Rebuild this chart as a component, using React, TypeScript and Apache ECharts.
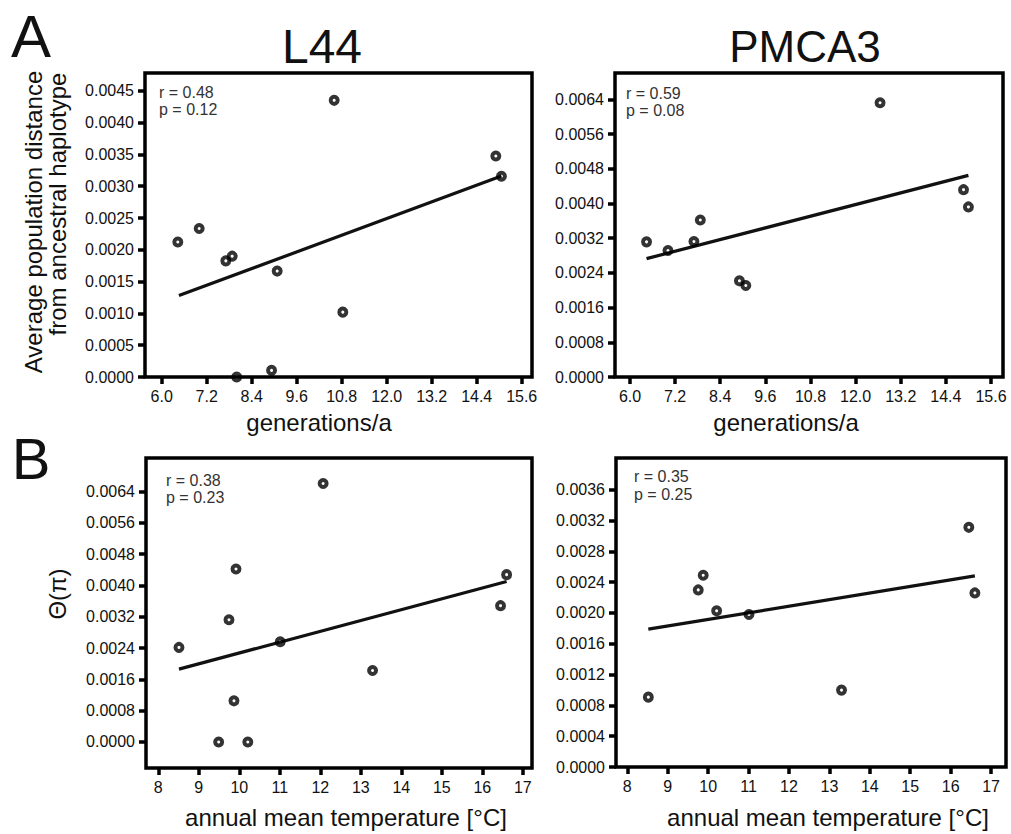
import React, { useEffect, useRef } from "react";
import * as echarts from "echarts";

const FONT = '"Liberation Sans", Arial, Helvetica, sans-serif';

// ---- Data ----
// Panel A, L44: generations/a vs average population distance
const l44Gen = [6.43, 7.0, 7.71, 7.88, 8.0, 8.93, 9.08, 10.6, 10.83, 14.91, 15.06];
const l44Dist = [0.002123, 0.002336, 0.001826, 0.0019, 0.0, 0.000104, 0.001665, 0.00435, 0.00102, 0.003475, 0.003157];
const l44DistFit = [[6.46, 0.00128], [15.06, 0.00316]];

// Panel A, PMCA3
const pmcaGen = [6.44, 7.01, 7.7, 7.87, 8.91, 9.08, 12.65, 14.87, 15.0];
const pmcaDist = [0.003116, 0.002918, 0.003124, 0.003619, 0.002217, 0.00211, 0.006324, 0.00432, 0.003922];
const pmcaDistFit = [[6.44, 0.00273], [15.0, 0.00465]];

// Panel B, L44: annual mean temperature vs Θ(π)
const l44Temp = [8.51, 9.49, 9.745, 9.868, 9.918, 10.21, 11.01, 12.07, 13.29, 16.45, 16.6];
const l44Theta = [0.002415, 0.0, 0.003123, 0.00105, 0.00442, 0.0, 0.00256, 0.006605, 0.001826, 0.003482, 0.004275];
const l44ThetaFit = [[8.51, 0.00186], [16.6, 0.0041]];

// Panel B, PMCA3
const pmcaTemp = [8.52, 9.755, 9.878, 10.21, 11.01, 13.3, 16.45, 16.6];
const pmcaTheta = [0.000907, 0.002299, 0.002489, 0.002027, 0.001979, 0.000998, 0.003111, 0.00226];
const pmcaThetaFit = [[8.52, 0.00179], [16.6, 0.00248]];

// Tick labels
const genTicks = [6.0, 7.2, 8.4, 9.6, 10.8, 12.0, 13.2, 14.4, 15.6];
const tempTicks = [8, 9, 10, 11, 12, 13, 14, 15, 16, 17];
const l44DistTicks = [0, 0.0005, 0.001, 0.0015, 0.002, 0.0025, 0.003, 0.0035, 0.004, 0.0045];
const pmcaDistTicks = [0, 0.0008, 0.0016, 0.0024, 0.0032, 0.004, 0.0048, 0.0056, 0.0064];
const l44ThetaTicks = [0, 0.0008, 0.0016, 0.0024, 0.0032, 0.004, 0.0048, 0.0056, 0.0064];
const pmcaThetaTicks = [0, 0.0004, 0.0008, 0.0012, 0.0016, 0.002, 0.0024, 0.0028, 0.0032, 0.0036];

const stats = [
  ["r = 0.48", "p = 0.12"],
  ["r = 0.59", "p = 0.08"],
  ["r = 0.38", "p = 0.23"],
  ["r = 0.35", "p = 0.25"],
];

const zip = (xs: number[], ys: number[]) => xs.map((x, i) => [x, ys[i]]);

function xAxis(gridIndex: number, min: number, max: number, ticks: number[], dec: number) {
  return {
    gridIndex,
    type: "value",
    min,
    max,
    axisLine: { show: false, onZero: false },
    axisTick: { show: true, inside: false, length: 7, lineStyle: { color: "#000", width: 3.5 }, customValues: ticks },
    axisLabel: {
      customValues: ticks,
      formatter: (v: number) => v.toFixed(dec),
      margin: 11,
      fontSize: 16,
      fontFamily: FONT,
      color: "#111",
    },
    splitLine: { show: false },
  };
}

function yAxis(gridIndex: number, min: number, max: number, ticks: number[]) {
  return {
    gridIndex,
    type: "value",
    min,
    max,
    axisLine: { show: false, onZero: false },
    axisTick: { show: true, inside: false, length: 7, lineStyle: { color: "#000", width: 3.5 }, customValues: ticks },
    axisLabel: {
      customValues: ticks,
      formatter: (v: number) => v.toFixed(4),
      margin: 11,
      fontSize: 16,
      fontFamily: FONT,
      color: "#111",
    },
    splitLine: { show: false },
  };
}

function scatter(i: number, xs: number[], ys: number[]) {
  return {
    type: "scatter",
    xAxisIndex: i,
    yAxisIndex: i,
    data: zip(xs, ys),
    symbol: "circle",
    symbolSize: 7,
    itemStyle: { color: "rgba(255,255,255,0)", borderColor: "#000", borderWidth: 4 },
    z: 4,
  };
}

function fit(i: number, pts: number[][]) {
  return {
    type: "line",
    xAxisIndex: i,
    yAxisIndex: i,
    data: pts,
    symbol: "none",
    lineStyle: { color: "#111", width: 3.2 },
    z: 3,
  };
}

function text(t: string, x: number, y: number, size: number, opts: any = {}) {
  return {
    type: "text",
    x,
    y,
    rotation: opts.rotation || 0,
    style: {
      text: t,
      font: `${size}px ${FONT}`,
      fill: opts.fill || "#111",
      align: opts.align || "center",
      verticalAlign: "middle",
      textAlign: opts.align || "center",
      textVerticalAlign: "middle",
    },
  };
}

const gridStyle = { show: true, borderColor: "#000", borderWidth: 3.5, backgroundColor: "transparent" };

export default function App() {
  const ref = useRef<HTMLDivElement>(null);
  useEffect(() => {
    if (!ref.current) return;
    const chart = echarts.init(ref.current, undefined, { renderer: "svg" });
    const statPos = [
      [159, 92.7, 109.7],
      [626, 93, 110],
      [166, 480.7, 497.4],
      [634, 476.4, 494],
    ];
    const graphic: any[] = [
      text("A", 31, 36, 60),
      text("B", 31, 458, 58),
      text("L44", 322, 46, 48),
      text("PMCA3", 805, 46, 44),
      text("Average population distance", 33, 222, 24, { rotation: Math.PI / 2 }),
      text("from ancestral haplotype", 57, 204, 24, { rotation: Math.PI / 2 }),
      text("Θ(π)", 57, 594, 24, { rotation: Math.PI / 2 }),
      text("generations/a", 319, 422, 24),
      text("generations/a", 786, 422, 24),
      text("annual mean temperature [°C]", 346, 817, 24),
      text("annual mean temperature [°C]", 828, 817, 24),
    ];
    stats.forEach((s, i) => {
      graphic.push(text(s[0], statPos[i][0], statPos[i][1], 16, { align: "left", fill: "#333" }));
      graphic.push(text(s[1], statPos[i][0], statPos[i][2], 16, { align: "left", fill: "#333" }));
    });

    chart.setOption({
      animation: false,
      backgroundColor: "#fff",
      grid: [
        { left: 145, top: 73, width: 387, height: 304, ...gridStyle },
        { left: 615, top: 73, width: 388, height: 304, ...gridStyle },
        { left: 146, top: 458, width: 386, height: 310, ...gridStyle },
        { left: 616, top: 458, width: 390, height: 309, ...gridStyle },
      ],
      xAxis: [
        xAxis(0, 5.555, 15.875, genTicks, 1),
        xAxis(1, 5.601, 15.92, genTicks, 1),
        xAxis(2, 7.696, 17.227, tempTicks, 0),
        xAxis(3, 7.72, 17.37, tempTicks, 0),
      ],
      yAxis: [
        yAxis(0, 0, 0.00478, l44DistTicks),
        yAxis(1, 0, 0.00701, pmcaDistTicks),
        yAxis(2, -0.000666, 0.007255, l44ThetaTicks),
        yAxis(3, 0, 0.004011, pmcaThetaTicks),
      ],
      series: [
        fit(0, l44DistFit),
        scatter(0, l44Gen, l44Dist),
        fit(1, pmcaDistFit),
        scatter(1, pmcaGen, pmcaDist),
        fit(2, l44ThetaFit),
        scatter(2, l44Temp, l44Theta),
        fit(3, pmcaThetaFit),
        scatter(3, pmcaTemp, pmcaTheta),
      ],
      graphic,
    });
    return () => chart.dispose();
  }, []);
  return <div ref={ref} style={{ position: "absolute", left: 0, top: 0, width: 1011, height: 834 }} />;
}
